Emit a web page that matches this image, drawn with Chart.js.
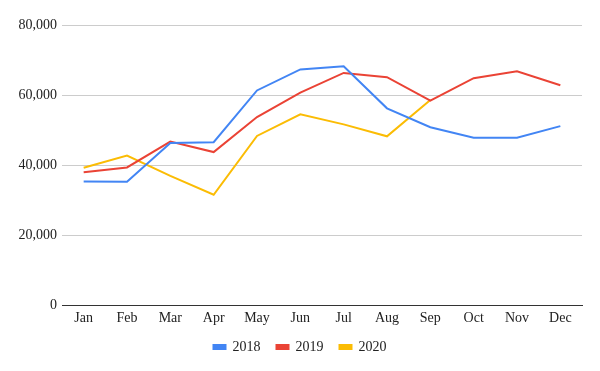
<!DOCTYPE html>
<html>
<head>
<meta charset="utf-8">
<script src="https://cdn.jsdelivr.net/npm/chart.js@4"></script>
<style>
  html, body { margin: 0; padding: 0; background: #fff; }
  #wrap { width: 600px; height: 371px; }
</style>
</head>
<body>
<div id="wrap"><canvas id="grafico"></canvas></div>
<script>
const months = ['Jan', 'Feb', 'Mar', 'Apr', 'May', 'Jun', 'Jul', 'Aug', 'Sep', 'Oct', 'Nov', 'Dec'];
const sales2018 = [35300, 35200, 46300, 46500, 61300, 67300, 68200, 56200, 50800, 47800, 47800, 51100];
const sales2019 = [37900, 39300, 46700, 43700, 53700, 60700, 66300, 65100, 58400, 64800, 66800, 62800];
const sales2020 = [39200, 42700, 36900, 31500, 48300, 54500, 51600, 48200, 58600, null, null, null];
const yTicks = [0, 20000, 40000, 60000, 80000];

const fontFamily = "'Liberation Serif', 'DejaVu Serif', serif";

// pull the legend closer to the month labels and re-center it
const legendNudge = {
    id: 'legendNudge',
    afterLayout(chart) {
        chart.legend.top -= 7;
        chart.legend.bottom -= 7;
        chart.legend.left += 9;
        chart.legend.right += 9;
    }
};

const ctx = document.getElementById('grafico');
new Chart(ctx, {
    type: 'line',
    data: {
        labels: months,
        datasets: [
            { label: '2018', data: sales2018, borderColor: '#4285F4', backgroundColor: '#4285F4' },
            { label: '2019', data: sales2019, borderColor: '#EA4335', backgroundColor: '#EA4335' },
            { label: '2020', data: sales2020, borderColor: '#FBBC04', backgroundColor: '#FBBC04' }
        ]
    },
    options: {
        responsive: true,
        maintainAspectRatio: false,
        animation: false,
        elements: {
            line: { borderWidth: 2, tension: 0 },
            point: { radius: 0 }
        },
        layout: { padding: { top: 25, right: 18, left: 0, bottom: 0 } },
        plugins: {
            legend: {
                position: 'bottom',
                labels: {
                    boxWidth: 12,
                    boxHeight: 4,
                    padding: 16,
                    color: '#222',
                    font: { family: fontFamily, size: 14 }
                }
            },
            tooltip: { enabled: false }
        },
        scales: {
            x: {
                offset: true,
                grid: { display: false, drawTicks: false },
                border: { display: true, color: '#333', width: 1 },
                ticks: { color: '#222', padding: 6, font: { family: fontFamily, size: 14, lineHeight: 1 } }
            },
            y: {
                min: 0,
                max: 80000,
                afterBuildTicks: (axis) => { axis.ticks = yTicks.map(v => ({ value: v })); },
                afterFit: (axis) => { axis.width = 62; },
                border: { display: false },
                grid: {
                    color: (c) => c.tick && c.tick.value === 0 ? '#333' : '#ccc',
                    drawTicks: false
                },
                ticks: {
                    color: '#222',
                    padding: 5,
                    font: { family: fontFamily, size: 14 },
                    callback: (value) => value.toLocaleString('en-US')
                }
            }
        }
    },
    plugins: [legendNudge]
});
</script>
</body>
</html>
